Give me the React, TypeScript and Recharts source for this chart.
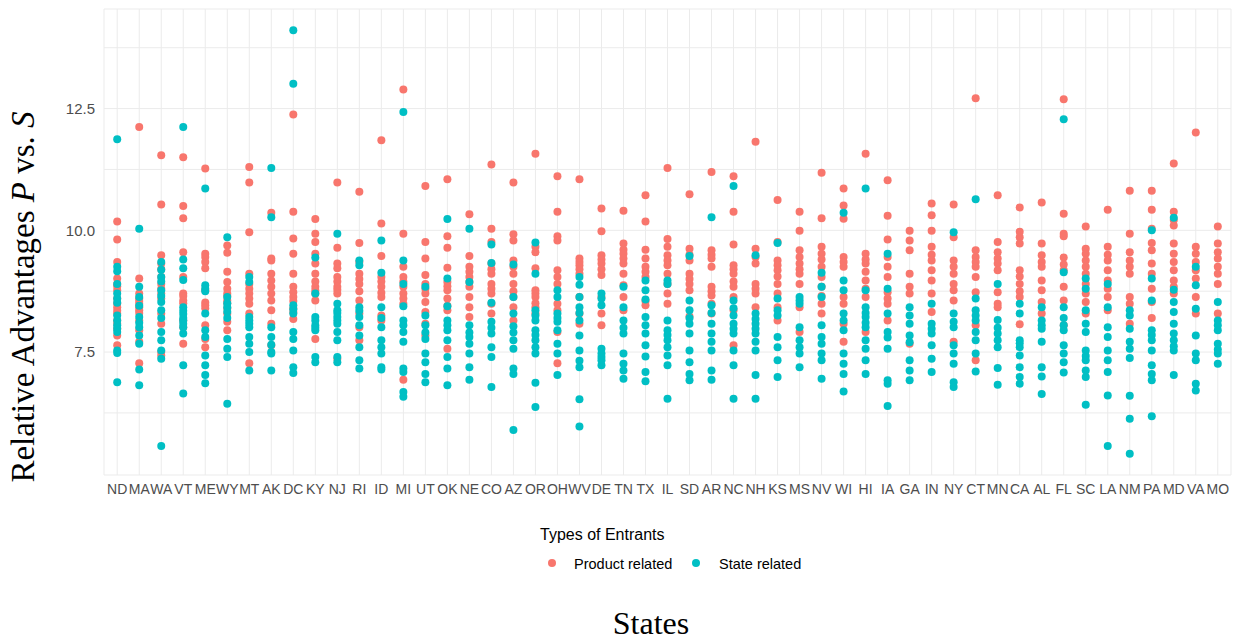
import React from 'react';
import { ScatterChart, Scatter, XAxis, YAxis, CartesianGrid } from 'recharts';

const W = 1239;
const H = 641;

const states = ['ND','MA','WA','VT','ME','WY','MT','AK','DC','KY','NJ','RI','ID','MI','UT','OK','NE','CO','AZ','OR','OH','WV','DE','TN','TX','IL','SD','AR','NC','NH','KS','MS','NV','WI','HI','IA','GA','IN','NY','CT','MN','CA','AL','FL','SC','LA','NM','PA','MD','VA','MO'];

const yMajorTicks = [7.5, 10, 12.5];
const yMinorTicks = [6.25, 8.75, 11.25, 13.75];

const productRelated: number[][] = [
  [10.18, 9.81, 9.35, 9.01, 8.90, 8.85, 8.77, 8.60, 8.50, 8.42, 8.35, 8.29, 8.15, 8.08, 7.98, 7.84, 7.64],
  [12.12, 9.01, 8.70, 8.60, 8.55, 8.49, 8.42, 8.36, 8.30, 8.15, 7.95, 7.71, 7.27],
  [11.54, 10.53, 9.49, 9.32, 9.20, 9.04, 8.90, 8.80, 8.70, 8.60, 8.29, 8.08, 7.50, 7.43],
  [11.50, 10.50, 10.25, 9.55, 9.04, 8.70, 8.65, 8.56, 8.50, 8.15, 8.01, 7.67],
  [11.27, 9.52, 9.45, 9.35, 9.22, 8.77, 8.52, 8.46, 8.40, 8.05, 7.77, 7.60],
  [9.69, 9.54, 9.15, 8.94, 8.80, 8.70, 8.65, 8.56, 8.50, 8.40, 8.29, 8.12, 7.95],
  [11.30, 10.98, 9.96, 9.11, 8.90, 8.80, 8.70, 8.60, 8.49, 8.29, 7.27],
  [10.36, 9.42, 9.38, 9.11, 8.97, 8.84, 8.70, 8.56, 8.36, 8.08, 7.64],
  [12.38, 10.38, 9.83, 9.52, 9.11, 8.84, 8.73, 8.63, 8.55, 8.40, 8.32, 8.18],
  [10.23, 9.93, 9.76, 9.52, 9.32, 9.11, 8.95, 8.84, 8.77, 8.70, 8.56, 7.77],
  [10.98, 9.64, 9.32, 9.22, 9.04, 8.95, 8.84, 8.78, 8.70, 7.36],
  [10.79, 9.74, 9.35, 9.11, 9.00, 8.90, 8.75, 8.56, 8.29, 8.01, 7.74],
  [11.85, 10.14, 9.47, 9.04, 8.95, 8.84, 8.72, 8.63, 8.25, 8.15],
  [12.89, 9.93, 9.25, 9.04, 8.95, 8.84, 8.70, 8.60, 8.49, 6.93],
  [10.91, 9.76, 9.42, 9.08, 8.90, 8.80, 8.70, 8.53, 8.32, 8.08, 7.84],
  [11.05, 9.88, 9.64, 9.23, 8.94, 8.85, 8.77, 8.60, 8.45, 8.36, 7.57],
  [10.33, 9.47, 9.25, 9.15, 9.04, 8.94, 8.84, 8.63, 8.42, 8.22],
  [11.35, 10.03, 9.76, 9.32, 9.20, 9.11, 8.90, 8.80, 8.70, 8.49, 8.29],
  [10.98, 9.92, 9.79, 9.38, 9.25, 9.11, 8.90, 8.75, 8.63, 8.42, 8.15],
  [11.57, 9.66, 9.55, 9.22, 8.77, 8.70, 8.63, 8.50, 8.42, 8.29],
  [11.11, 10.38, 9.88, 9.79, 9.18, 9.04, 8.90, 8.49, 8.36, 7.91, 7.27],
  [11.05, 9.42, 9.35, 9.28, 9.20, 9.11, 8.63, 8.29, 8.08],
  [10.45, 9.98, 9.49, 9.40, 9.32, 9.20, 9.08, 8.63, 8.29, 8.05],
  [10.40, 9.73, 9.60, 9.52, 9.42, 9.32, 9.11, 8.87, 8.63, 8.36],
  [10.72, 10.18, 9.60, 9.42, 9.25, 9.15, 9.04, 8.55, 8.46],
  [11.28, 9.82, 9.66, 9.49, 9.38, 9.28, 9.11, 8.90, 8.70, 8.49],
  [10.74, 9.62, 9.50, 9.38, 9.11, 9.00, 8.90, 8.77, 8.23],
  [11.20, 9.59, 9.50, 9.42, 9.25, 8.84, 8.75, 8.66, 8.49, 8.29],
  [11.11, 10.38, 9.71, 9.28, 9.20, 9.11, 8.95, 8.84, 8.63, 8.36, 7.64],
  [11.82, 9.62, 9.45, 9.32, 8.90, 8.80, 8.70, 8.42],
  [10.62, 9.76, 9.38, 9.28, 9.18, 9.05, 8.90, 8.70, 8.42, 8.15],
  [10.38, 9.99, 9.59, 9.45, 9.32, 9.20, 9.11, 8.90, 8.42, 7.91],
  [11.18, 10.25, 9.66, 9.52, 9.40, 9.25, 9.04, 8.84, 8.65, 8.49, 8.29],
  [10.86, 10.51, 10.24, 9.45, 9.35, 9.25, 8.63, 8.49, 8.08, 7.71],
  [11.57, 9.52, 9.40, 9.32, 9.15, 8.97, 8.80, 8.63, 7.91],
  [11.03, 10.30, 9.81, 9.45, 9.25, 9.04, 8.73, 8.60, 8.49, 8.15],
  [9.99, 9.79, 9.59, 9.11, 8.84, 8.70, 7.67],
  [10.55, 10.31, 9.99, 9.66, 9.50, 9.38, 9.18, 8.97, 8.70, 8.32],
  [10.53, 9.86, 9.38, 9.25, 9.11, 8.90, 8.77, 8.56, 7.71],
  [12.71, 9.59, 9.45, 9.35, 9.25, 9.04, 8.73, 8.05, 7.33],
  [10.72, 9.76, 9.55, 9.42, 9.32, 9.18, 8.73, 8.49, 8.42],
  [10.47, 9.97, 9.86, 9.73, 9.18, 9.05, 8.90, 8.75, 8.63, 8.07],
  [10.57, 9.73, 9.49, 9.35, 9.25, 8.97, 8.77, 8.53, 8.29],
  [12.69, 10.34, 9.93, 9.88, 9.44, 9.30, 9.18, 8.84, 8.56, 8.05],
  [10.08, 9.62, 9.52, 9.38, 9.25, 9.11, 8.90, 8.70, 8.53, 8.29],
  [10.42, 9.66, 9.50, 9.38, 9.18, 8.97, 8.80, 8.63, 8.36],
  [10.81, 9.93, 9.55, 9.38, 9.25, 9.11, 8.63, 8.49, 8.08],
  [10.81, 10.42, 10.03, 9.74, 9.59, 9.32, 9.11, 8.80, 8.53, 8.20],
  [11.37, 10.38, 10.21, 10.10, 9.73, 9.52, 9.35, 9.18, 8.97, 8.84, 8.70],
  [12.01, 9.66, 9.52, 9.35, 9.18, 9.01, 8.63, 8.29],
  [10.08, 9.73, 9.55, 9.42, 9.25, 9.11, 8.90, 8.29],
];

const stateRelated: number[][] = [
  [11.87, 9.25, 9.16, 8.90, 8.70, 8.60, 8.51, 8.25, 8.15, 8.05, 7.98, 7.91, 7.53, 7.48, 6.88],
  [10.03, 8.84, 8.63, 8.45, 8.22, 8.10, 8.01, 7.84, 7.67, 7.14, 6.82],
  [9.35, 9.19, 9.04, 8.95, 8.77, 8.65, 8.53, 8.36, 8.20, 7.91, 7.74, 7.53, 7.36, 5.57],
  [12.12, 9.40, 9.22, 8.98, 8.42, 8.35, 8.28, 8.20, 8.15, 8.08, 8.01, 7.88, 7.23, 6.65],
  [10.86, 8.87, 8.80, 8.75, 8.29, 7.95, 7.81, 7.43, 7.23, 7.03, 6.86],
  [9.86, 8.63, 8.50, 8.42, 8.33, 8.20, 7.77, 7.57, 7.40, 6.44],
  [9.04, 8.94, 8.22, 8.15, 8.08, 8.01, 7.81, 7.67, 7.50, 7.12],
  [11.28, 10.27, 8.01, 7.81, 7.65, 7.50, 7.47, 7.12],
  [14.11, 13.01, 8.46, 8.38, 8.29, 7.91, 7.77, 7.53, 7.19, 7.07],
  [9.44, 8.70, 8.22, 8.15, 8.05, 8.00, 7.95, 7.40, 7.29],
  [9.93, 8.49, 8.36, 8.30, 8.22, 8.15, 8.08, 7.91, 7.74, 7.40, 7.29],
  [9.38, 9.28, 8.42, 8.35, 8.22, 8.05, 7.84, 7.60, 7.33, 7.16],
  [9.79, 9.13, 8.42, 8.20, 8.01, 7.74, 7.60, 7.47, 7.19, 7.14],
  [12.43, 9.38, 8.90, 8.44, 8.15, 8.05, 7.91, 7.71, 7.16, 7.09, 6.68, 6.58],
  [8.84, 8.25, 8.05, 7.90, 7.77, 7.47, 7.29, 7.05, 6.88],
  [10.23, 9.01, 8.44, 8.15, 8.05, 7.95, 7.74, 7.40, 7.16, 6.82],
  [10.03, 8.94, 8.05, 7.90, 7.81, 7.67, 7.47, 7.19, 6.93],
  [9.71, 9.33, 8.51, 8.12, 8.00, 7.88, 7.60, 7.40, 6.78],
  [9.30, 8.63, 8.29, 8.03, 7.90, 7.74, 7.57, 7.16, 7.05, 5.90],
  [9.75, 9.11, 8.36, 8.25, 8.15, 7.95, 7.85, 7.74, 7.60, 7.47, 6.87, 6.37],
  [8.77, 8.63, 8.29, 8.20, 8.12, 7.95, 7.67, 7.47, 7.03],
  [9.04, 8.88, 8.63, 8.42, 8.30, 8.15, 7.84, 7.53, 7.32, 7.19, 6.53, 5.97],
  [8.70, 8.60, 8.46, 7.57, 7.47, 7.40, 7.33, 7.23],
  [8.84, 8.42, 8.15, 8.00, 7.88, 7.47, 7.26, 7.12, 6.95],
  [8.97, 8.77, 8.58, 8.22, 8.05, 7.88, 7.64, 7.41, 7.09, 6.90],
  [8.97, 8.90, 8.15, 7.95, 7.85, 7.74, 7.60, 7.43, 7.23, 6.54],
  [9.47, 8.56, 8.36, 8.20, 8.08, 7.88, 7.53, 7.29, 7.05, 6.92],
  [10.27, 8.46, 8.30, 8.08, 7.88, 7.71, 7.53, 7.12, 6.93],
  [10.91, 8.56, 8.40, 8.25, 8.08, 7.98, 7.88, 7.53, 7.23, 6.54],
  [9.49, 8.29, 8.18, 8.08, 7.98, 7.88, 7.71, 7.53, 7.03, 6.54],
  [9.74, 8.60, 8.36, 8.25, 7.81, 7.60, 7.33, 6.99],
  [8.63, 8.56, 8.49, 8.01, 7.74, 7.60, 7.47, 7.19],
  [9.13, 8.84, 8.63, 8.05, 7.81, 7.67, 7.47, 7.33, 6.95],
  [10.36, 8.97, 8.77, 8.29, 8.15, 7.95, 7.47, 7.26, 7.05, 6.69],
  [10.86, 8.77, 8.42, 8.30, 8.22, 8.10, 8.01, 7.74, 7.57, 7.33, 7.05],
  [9.52, 8.80, 8.29, 7.91, 7.80, 7.57, 6.92, 6.85, 6.39],
  [8.42, 8.25, 8.08, 7.84, 7.70, 7.33, 7.12, 6.92],
  [8.49, 8.08, 7.98, 7.88, 7.64, 7.36, 7.09],
  [9.96, 8.29, 8.12, 8.01, 7.64, 7.47, 7.26, 6.88, 6.78],
  [10.64, 8.60, 8.36, 8.25, 8.15, 7.91, 7.74, 7.47, 7.10],
  [8.90, 8.16, 8.00, 7.88, 7.74, 7.60, 7.17, 6.83],
  [8.49, 8.29, 7.74, 7.68, 7.60, 7.43, 7.19, 6.99, 6.85],
  [8.42, 8.15, 8.05, 7.98, 7.71, 7.19, 7.00, 6.64],
  [12.28, 9.14, 8.42, 8.20, 8.05, 7.95, 7.64, 7.47, 7.29, 7.08],
  [9.01, 8.80, 8.36, 8.08, 7.91, 7.53, 7.42, 7.33, 7.12, 6.99, 6.42],
  [8.90, 8.42, 8.01, 7.81, 7.53, 7.33, 7.09, 6.61, 5.57],
  [8.36, 8.25, 7.98, 7.71, 7.57, 7.38, 6.60, 6.13, 5.41],
  [10.00, 9.01, 8.56, 7.95, 7.85, 7.74, 7.53, 7.23, 7.05, 6.92, 6.18],
  [10.26, 8.78, 8.53, 8.32, 8.08, 7.88, 7.74, 7.62, 7.53, 7.03],
  [9.25, 8.87, 8.39, 7.84, 7.47, 7.33, 6.85, 6.71],
  [8.53, 8.15, 8.05, 7.95, 7.67, 7.55, 7.47, 7.26],
];

const PRODUCT_COLOR = '#F8766D';
const STATE_COLOR = '#00BFC4';

const toPoints = (rows: number[][]) =>
  rows.flatMap((vals, i) => vals.map((v) => ({ x: i, y: v })));

const productData = toPoints(productRelated);
const stateData = toPoints(stateRelated);
const xTicks = states.map((_, i) => i);
const yTicks = [...yMinorTicks, ...yMajorTicks].sort((a, b) => a - b);

const sans = '"Liberation Sans", Arial, sans-serif';
const serif = '"Liberation Serif", "DejaVu Serif", serif';

const dot = (color: string) => (p: any) =>
  <circle cx={p.cx} cy={p.cy} r={4} fill={color} />;

export default function App() {
  return (
    <div style={{ position: 'absolute', left: 0, top: 0, width: W, height: H, background: '#fff' }}>
      <ScatterChart width={W} height={H} margin={{ top: 9, right: 8, bottom: 136, left: 0 }}>
        <CartesianGrid stroke="#ebebeb" strokeWidth={1} />
        <XAxis
          type="number"
          dataKey="x"
          domain={[-0.6, 50.6]}
          ticks={xTicks}
          interval={0}
          tickFormatter={(i: number) => states[i] ?? ''}
          tickLine={false}
          axisLine={false}
          tickSize={0}
          tickMargin={9}
          height={30}
          tick={{ fill: '#4d4d4d', fontSize: 14, fontFamily: sans }}
        />
        <YAxis
          type="number"
          dataKey="y"
          domain={[4.975, 14.545]}
          ticks={yTicks}
          interval={0}
          tickFormatter={(v: number) => (yMajorTicks.includes(v) ? v.toFixed(1) : '')}
          tickLine={false}
          axisLine={false}
          tickSize={0}
          tickMargin={9}
          width={104}
          tick={{ fill: '#4d4d4d', fontSize: 15, fontFamily: sans }}
        />
        <Scatter data={productData} fill={PRODUCT_COLOR} shape={dot(PRODUCT_COLOR)} isAnimationActive={false} />
        <Scatter data={stateData} fill={STATE_COLOR} shape={dot(STATE_COLOR)} isAnimationActive={false} />
      </ScatterChart>
      <svg width={W} height={H} style={{ position: 'absolute', left: 0, top: 0, pointerEvents: 'none' }}>
        <text
          transform="translate(23, 297) rotate(-90)"
          textAnchor="middle"
          dominantBaseline="central"
          fontFamily={serif}
          fontSize={33}
          fill="#000"
        >
          Relative Advantages <tspan fontStyle="italic">P</tspan> vs. <tspan fontStyle="italic">S</tspan>
        </text>
        <text x={651} y={634} textAnchor="middle" fontFamily={serif} fontSize={32} fill="#000">
          States
        </text>
        <text x={540} y={534} dominantBaseline="central" fontFamily={sans} fontSize={16} fill="#000">
          Types of Entrants
        </text>
        <circle cx={552} cy={563} r={4} fill={PRODUCT_COLOR} />
        <text x={574} y={564} dominantBaseline="central" fontFamily={sans} fontSize={14.5} fill="#000">
          Product related
        </text>
        <circle cx={696} cy={563} r={4} fill={STATE_COLOR} />
        <text x={719} y={564} dominantBaseline="central" fontFamily={sans} fontSize={14.5} fill="#000">
          State related
        </text>
      </svg>
    </div>
  );
}
